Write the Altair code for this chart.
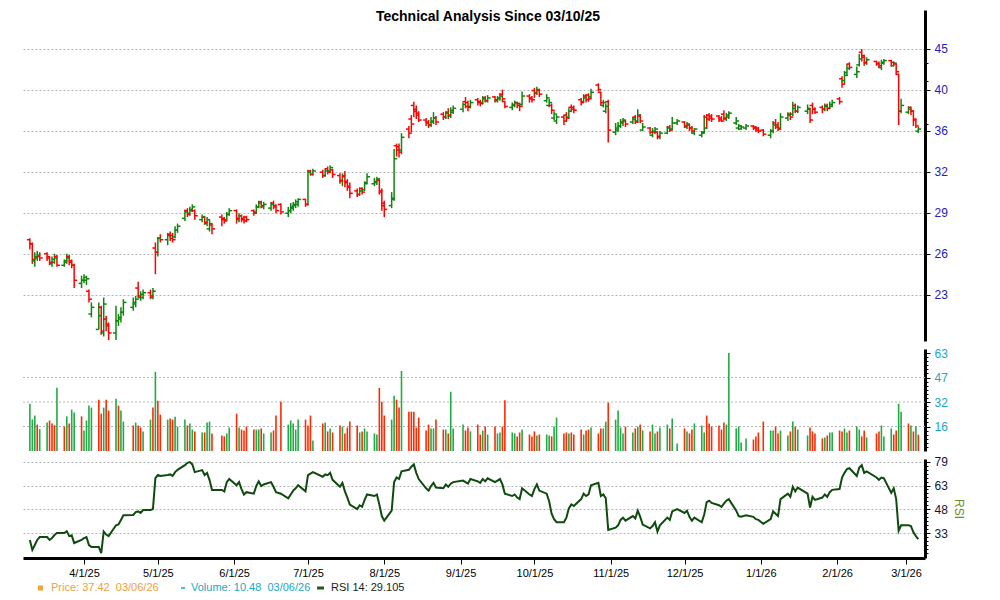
import altair as alt
import pandas as pd

title_text = "Technical Analysis Since 03/10/25"
holidays = ["2025-04-18", "2025-05-26", "2025-06-19", "2025-07-04", "2025-09-01",
            "2025-11-27", "2025-12-25", "2026-01-01", "2026-01-19", "2026-02-16"]

# daily OHLC (one row per week)
opens = [
 26.8,26.5,25.3,25.5,25.6, 25.8,25.5,25.1,25.2,25.6, 25.0,25.2,25.6,25.3,25.0,
 23.8,24.0,24.0,23.3,21.9, 21.0,22.3,20.8,21.6,21.3, 20.8,21.5,21.6,22.0,
 22.3,22.5,23.5,22.9,22.9, 23.2,22.9,26.2,25.9,26.9, 26.8,27.2,27.1,27.0,27.5,
 28.4,29.0,28.8,29.0,29.0, 28.3,28.5,28.0,27.6,27.9, 28.5,28.4,28.3,28.7,
 29.0,28.3,28.6,28.4,28.5, 29.0,28.9,29.3,29.7,29.3, 29.2,29.6,29.4,29.5,
 28.8,29.0,29.2,29.4,29.5, 29.9,29.5,32.3,32.0, 32.2,31.9,32.5,32.3,32.4,
 31.9,31.4,31.8,31.4,31.0, 30.6,30.3,30.8,30.7,31.3, 31.2,31.3,31.5,30.5,29.4,
 29.4,30.0,34.6,34.5,34.2, 36.2,37.2,38.6,38.2,37.8, 37.1,36.9,36.6,36.9,37.3,
 37.7,37.4,37.9,37.5,37.9, 38.2,39.0,38.9,38.5, 39.2,39.0,38.9,39.4,39.1,
 39.5,39.1,39.3,39.8,39.0, 38.4,38.6,38.9,38.8,38.7, 39.6,39.4,40.2,39.9,40.2,
 39.1,38.6,38.6,37.3,37.0, 37.4,37.6,37.4,38.4,38.4, 39.2,39.0,39.6,39.7,39.5,
 40.8,40.0,38.6,38.0,39.0, 35.9,36.1,36.5,36.8,37.0, 36.9,37.4,37.0,37.5,36.1,
 36.3,35.6,35.9,35.9,35.4, 35.8,36.4,36.2,36.8, 36.9,36.4,36.6,36.3,35.8,
 35.6,35.9,37.4,37.6,37.5, 37.5,37.3,37.7,37.2,37.4, 36.8,36.3,36.2,36.3,
 36.5,36.4,36.3,36.1, 35.6,36.0,36.8,36.6,36.3, 37.3,37.7,37.7,38.6,38.0,
 38.0,38.2,38.6,38.2, 38.4,38.2,38.6,38.3,38.5, 39.3,41.5,41.3,42.2,43.2,
 42.0,43.1,44.6,44.0,43.3, 43.5,43.3,42.8,43.3, 43.6,43.0,43.2,42.0,38.0,
 37.9,38.4,38.0,37.1,36.0,
]
highs = [
 26.9,26.6,25.9,26.0,25.9, 25.9,25.6,25.6,25.8,25.7, 25.4,25.8,25.7,25.4,25.1,
 24.3,24.4,24.3,23.4,22.6, 22.6,22.4,22.9,21.8,21.4, 22.4,21.9,22.3,22.8,
 22.9,23.0,23.9,23.3,23.4, 23.4,23.5,26.6,27.0,27.2, 27.3,27.4,27.3,27.8,28.0,
 29.1,29.2,29.3,29.5,29.1, 28.7,28.6,28.5,28.3,28.0, 28.7,28.5,28.9,29.2,
 29.1,28.8,28.7,28.6,28.6, 29.1,29.5,29.8,29.8,29.7, 29.7,29.8,29.5,29.6,
 29.3,29.6,29.7,29.9,30.0, 29.95,32.4,32.4,32.5, 32.4,32.5,32.7,32.8,32.5,
 32.1,32.1,32.3,31.6,31.3, 30.8,30.9,30.9,31.4,32.1, 31.7,31.8,31.7,30.8,29.8,
 30.5,34.3,34.8,34.8,35.8, 36.5,37.6,39.0,38.6,38.0, 37.3,37.1,37.4,37.9,37.5,
 37.9,38.0,38.3,38.4,38.6, 38.9,39.5,39.1,39.2, 39.4,39.2,39.6,39.6,39.7,
 39.6,39.6,39.9,40.3,39.1, 38.9,39.1,39.0,38.9,40.1, 39.8,39.6,40.5,40.6,40.4,
 39.8,39.3,38.8,38.0,37.6, 37.6,37.9,38.3,38.7,38.6, 39.4,39.8,39.8,39.9,40.4,
 41.0,40.1,39.2,38.8,39.2, 36.8,36.9,37.2,37.3,37.1, 37.4,37.6,38.2,37.7,36.8,
 36.4,36.3,36.4,36.0,36.0, 36.5,36.6,37.4,37.2, 37.0,36.9,36.7,36.5,36.3,
 36.0,37.6,37.7,37.8,37.7, 37.6,37.5,38.1,37.8,38.0, 37.4,36.7,36.6,36.7,
 36.6,36.5,36.4,36.2, 36.2,37.0,37.2,36.9,37.8, 37.9,37.9,39.0,38.8,38.6,
 38.7,38.3,38.9,38.4, 38.6,38.8,38.8,39.0,39.2, 39.5,41.8,42.4,43.2,43.4,
 42.9,44.4,45.0,44.3,44.0, 43.6,43.5,43.7,43.8, 43.7,43.5,43.3,42.1,39.3,
 38.5,38.5,38.1,37.2,36.4,
]
lows = [
 26.1,25.1,24.9,25.3,25.3, 25.3,25.0,24.9,25.1,24.9, 24.9,25.1,25.0,24.8,23.5,
 23.5,23.8,23.7,22.6,21.7, 21.0,20.7,20.6,20.9,20.4, 20.4,21.2,21.4,21.8,
 22.1,22.3,22.9,22.7,22.8, 22.8,22.8,24.4,25.6,26.6, 26.4,26.7,26.6,26.9,27.3,
 28.2,28.5,28.6,28.9,28.3, 28.1,27.9,27.8,27.4,27.2, 27.8,28.0,28.2,28.6,
 28.0,28.1,28.1,28.0,28.1, 28.6,28.8,29.2,29.2,29.1, 29.0,29.1,28.8,28.7,
 28.5,28.8,29.0,29.2,29.3, 29.3,29.4,31.9,31.9, 31.7,31.8,32.0,32.1,31.7,
 31.2,31.0,30.9,30.6,30.0, 30.1,30.2,30.3,30.6,31.2, 31.0,31.1,30.3,29.0,28.5,
 29.2,29.8,33.6,33.5,33.8, 35.3,35.9,37.4,37.2,36.9, 36.5,36.3,36.4,36.7,36.6,
 37.1,37.2,37.2,37.3,37.7, 37.9,38.3,38.0,38.3, 38.6,38.5,38.7,38.9,38.9,
 38.9,38.9,39.1,39.0,38.3, 38.1,38.4,38.3,38.0,38.6, 38.9,38.9,39.4,39.7,39.5,
 38.9,38.4,37.7,37.1,36.7, 36.6,36.9,37.2,37.9,37.8, 38.6,38.9,38.9,39.0,39.3,
 40.1,38.6,38.4,37.8,34.9, 35.6,35.9,36.3,36.5,36.4, 36.7,36.7,36.8,36.8,36.0,
 35.7,35.4,35.7,35.2,35.2, 35.7,35.9,36.1,36.6, 36.3,36.2,36.0,35.8,35.6,
 35.4,35.8,36.2,37.0,36.9, 36.9,36.9,37.1,37.0,37.2, 36.6,36.1,36.1,36.1,
 36.1,35.9,35.8,35.5, 35.3,35.8,36.2,36.0,36.1, 37.0,37.1,37.5,37.8,37.8,
 37.7,36.8,37.7,37.7, 37.8,38.0,38.0,38.2,38.4, 38.7,40.5,40.9,41.8,42.5,
 41.6,42.9,43.5,43.0,43.1, 43.0,42.7,42.5,43.1, 42.9,42.9,42.0,36.6,37.8,
 37.7,37.6,36.5,36.3,35.8,
]
closes = [
 26.5,25.4,25.6,25.7,25.5, 25.6,25.2,25.4,25.5,25.0, 25.3,25.5,25.2,25.0,24.0,
 24.0,24.2,24.1,22.8,22.3, 21.8,20.9,22.5,21.2,20.8, 21.5,21.7,22.0,22.6,
 22.6,22.8,23.0,23.1,23.2, 23.0,23.3,25.9,26.9,26.8, 27.1,26.9,26.8,27.5,27.8,
 28.9,28.7,29.1,29.3,28.6, 28.5,28.1,28.3,28.0,27.6, 28.3,28.2,28.7,29.0,
 28.4,28.6,28.3,28.2,28.3, 28.8,29.3,29.6,29.4,29.5, 29.5,29.3,29.0,28.9,
 29.0,29.3,29.5,29.7,29.9, 29.5,32.2,32.0,32.3, 31.9,32.3,32.2,32.6,32.0,
 31.5,31.9,31.3,30.9,30.4, 30.3,30.6,30.5,31.2,31.8, 31.4,31.6,30.6,29.6,29.1,
 29.9,33.4,34.2,34.0,35.4, 35.8,36.7,38.0,37.6,37.1, 36.8,36.6,37.0,37.3,36.9,
 37.4,37.8,37.6,38.1,38.3, 38.7,38.5,38.4,38.9, 38.9,38.8,39.3,39.1,39.4,
 39.2,39.4,39.6,39.3,38.5, 38.7,38.9,38.6,38.5,39.6, 39.3,39.2,39.9,40.3,39.8,
 39.4,38.9,38.1,37.7,37.4, 37.0,37.3,38.0,38.2,38.1, 38.9,39.4,39.2,39.3,40.0,
 40.3,38.9,38.9,38.5,36.1, 36.3,36.5,36.9,37.1,36.7, 37.2,36.9,37.6,37.0,36.4,
 35.9,36.0,36.2,35.5,35.8, 36.3,36.1,36.8,37.0, 36.5,36.7,36.3,36.0,36.2,
 35.8,36.3,37.2,37.3,37.2, 37.1,37.0,37.3,37.6,37.8, 37.0,36.5,36.4,36.5,
 36.3,36.1,36.0,35.7, 36.0,36.6,36.4,36.2,37.4, 37.6,37.4,38.3,38.0,38.4,
 38.3,37.1,38.2,37.9, 38.2,38.5,38.3,38.7,38.9, 39.0,40.9,41.9,42.7,42.8,
 42.3,43.8,44.2,43.4,43.7, 43.2,43.0,43.4,43.6, 43.4,43.3,42.3,38.0,38.6,
 38.2,38.0,37.2,36.5,36.2,
]
volumes = [
 30.4,20.4,22.8,17.0,14.0, 18.3,19.6,17.7,16.6,40.6, 15.7,22.3,17.7,26.6,24.7,
 22.3,13.2,19.6,29.2,27.9, 33.0,24.0,27.9,33.0,26.0, 33.6,29.2,26.0,18.9,
 16.4,18.3,16.4,15.1,12.6, 20.2,27.9,50.9,32.3,23.4, 20.2,20.9,20.2,22.1,15.7,
 20.2,16.4,17.7,13.8,12.6, 11.9,11.9,18.3,18.9,11.3, 10.0,9.4,11.3,15.1,
 24.0,15.1,13.8,13.2,15.7, 13.8,13.8,13.8,14.5,11.3, 11.9,13.2,22.8,31.7,
 17.0,19.6,17.7,13.8,20.2, 20.2,16.4,22.8,6.8, 17.7,18.3,12.6,14.5,11.9,
 16.4,15.7,11.3,15.1,18.9, 16.4,11.9,12.6,14.5,12.6, 11.3,10.6,40.6,31.7,22.8,
 20.2,35.5,33.0,27.9,51.5, 25.3,25.3,25.3,15.1,21.5, 13.2,17.0,14.5,14.5,20.2,
 13.8,13.8,11.3,38.1,14.5, 17.0,13.2,15.1,12.6, 17.0,10.6,13.2,15.7,10.6,
 15.7,11.3,11.9,15.7,32.6, 11.9,11.3,9.4,11.9,13.8, 10.6,9.4,12.6,10.0,10.6,
 10.6,10.0,9.4,15.7,21.5, 11.3,11.9,11.3,11.9,10.6, 13.8,10.6,13.2,13.8,15.1,
 11.3,14.5,14.5,18.9,31.1, 20.2,26.0,15.1,11.3,15.7, 11.9,14.5,15.7,17.0,13.2,
 12.6,17.0,11.3,12.6,15.1, 17.0,14.5,20.9,4.9, 14.5,12.6,11.3,13.8,17.7,
 16.4,11.9,22.8,17.7,15.7, 16.4,13.8,18.3,17.0,63.0, 14.5,15.7,5.5,8.1,
 7.4,9.4,11.9,18.9, 13.2,13.2,15.7,11.3,13.2, 10.0,12.6,18.9,15.7,13.8,
 10.0,15.1,12.6,11.3, 8.1,8.7,10.0,11.9,11.9, 13.2,12.6,14.5,11.9,13.2,
 15.7,13.8,9.4,13.2,8.7, 11.3,12.6,16.4,9.4, 14.5,10.6,13.2,30.4,25.3,
 17.7,16.4,12.6,15.7,10.48,
]
# G = up volume, R = down volume (one group per week)
volume_dir = ("GGGRG GRRRG RGRGG RGGGG RRGRR GRGG RGRRG GRGRR GRRGG GRGGR GRGGR RRGG "
              "RGRRR RGGRG GRRR GGGGG RRRG RGRGR RGRRR RGRGG GGRRR GGRRG RRRRR RRGGR "
              "RGRGG GRRG RRGRG RGGRR GGRRG RRRGR GGRGG RRGRR RGRRG RRGGR GGGGR GRGRG "
              "RGGRG GRGG RGRRG GGRRR RRRGG GGGG RRRR GGRRG GRGRG GRRR RGRGG RRGGR "
              "GGRRG RRGG GRRGG RGRGR")
rsi = [
 28.5,22.0,25.2,28.5,30.4, 30.4,28.5,29.7,31.7,33.0, 33.0,34.2,31.0,31.5,26.5,
 28.5,29.7,30.4,25.2,23.9, 24.0,20.0,34.0,32.0,31.0, 38.0,38.5,41.5,44.5,
 44.7,46.6,47.0,46.0,47.9, 47.9,48.5,68.6,70.6,70.0, 70.6,71.0,70.0,72.5,74.0,
 77.0,78.5,79.0,77.5,72.5, 73.8,70.6,72.0,67.3,60.9, 60.9,60.0,66.0,68.0,
 64.0,66.0,61.5,58.0,59.5, 58.5,63.5,66.5,63.5,64.5, 66.0,63.0,59.5,58.5,
 55.5,58.0,60.5,62.0,64.0, 60.0,70.5,71.5,72.5, 69.5,71.0,70.5,72.0,67.5,
 63.0,65.5,60.0,56.0,51.5, 48.5,51.0,50.0,54.5,58.0, 57.0,58.0,51.5,44.0,41.0,
 47.5,66.0,69.0,68.0,73.0, 74.0,76.0,77.5,72.0,68.0, 62.0,60.5,63.5,65.5,62.5,
 62.0,64.5,63.0,65.0,66.0, 67.0,66.0,65.0,68.0, 66.5,65.5,68.0,66.5,68.5,
 66.0,67.0,68.0,64.5,58.5, 57.0,58.0,56.0,55.0,62.0, 58.0,57.0,61.5,64.5,60.5,
 58.5,53.5,45.5,42.0,40.0, 40.0,43.0,49.0,51.5,50.5, 55.0,58.5,57.0,58.0,64.0,
 65.5,57.0,58.0,55.5,35.0, 36.5,38.0,41.5,43.0,41.0, 44.0,42.5,47.5,43.5,38.5,
 36.0,37.5,40.0,34.0,38.0, 43.0,41.5,47.0,48.5, 46.0,47.5,43.5,41.0,43.0,
 40.0,45.0,53.0,54.0,52.5, 51.0,50.0,52.0,54.0,55.0, 47.5,44.0,43.5,44.5,
 43.5,42.0,41.5,39.0, 42.0,47.0,45.5,44.0,55.0, 58.5,56.5,63.0,60.0,62.5,
 58.5,49.5,56.5,54.5, 56.0,58.0,56.5,59.5,61.0, 61.5,69.0,72.0,74.5,75.0,
 70.0,75.5,77.0,72.0,73.0, 69.0,67.5,69.0,68.5, 59.0,62.0,55.0,34.5,38.0,
 38.0,37.5,33.5,31.0,29.1,
]

price_ticks = [23.08, 25.80, 28.83, 32.23, 36.02, 40.26, 45.0]
price_minor = [36.7, 41.3, 43.3]
volume_ticks = [15.75, 31.5, 47.25, 63.0]
volume_grid = [15.75, 31.5, 47.25]
rsi_ticks = [33.0, 48.4, 63.8, 79.2]
legend_price = "Price: 37.42\u00a0 03/06/26"
legend_volume = "Volume: 10.48\u00a0 03/06/26"
legend_rsi = "RSI 14: 29.105"

dates = [d.strftime("%Y-%m-%dT00:00:00") for d in pd.bdate_range("2025-03-10", "2026-03-06")
         if d.strftime("%Y-%m-%d") not in holidays]
vdir = list(volume_dir.replace(" ", ""))
n = min(len(dates), len(opens), len(highs), len(lows), len(closes), len(volumes), len(vdir), len(rsi))
df = pd.DataFrame({
    "date": dates[:n], "open": opens[:n], "high": highs[:n], "low": lows[:n],
    "close": closes[:n], "volume": volumes[:n], "vdir": vdir[:n], "rsi": rsi[:n],
})

W = 902
H_PRICE, H_VOL, H_RSI = 331, 102, 99
FONT = "Liberation Sans"
GREEN, RED = "#0e850e", "#ff0000"
VGREEN, VRED = "#22aa44", "#ff2a00"

xscale = alt.Scale(domain=[alt.DateTime(year=2025, month=3, date=7, hours=5),
                           alt.DateTime(year=2026, month=3, date=8, hours=17)])
pscale = alt.Scale(type="log", domain=[20.35, 50.03], nice=False, zero=False)
vscale = alt.Scale(domain=[0, 65.6], nice=False, zero=False)
rscale = alt.Scale(domain=[16.8, 81.0], nice=False, zero=False)

grid_style = dict(grid=True, gridDash=[2, 2], gridColor="#b4b4b4", gridWidth=1)
axis_style = dict(orient="right", domainWidth=3, domainColor="black", tickColor="black",
                  tickSize=5, tickWidth=1, labelFontSize=12, labelFont=FONT, labelPadding=4)

def minor_axis(vals):
    return alt.Axis(orient="right", values=vals, labels=False, domain=False, grid=False,
                    tickSize=3, tickColor="black", tickWidth=1, title=None)

month_ticks = [alt.DateTime(year=2025, month=m, date=1) for m in range(4, 13)] + \
              [alt.DateTime(year=2026, month=m, date=1) for m in range(1, 4)]
xaxis = alt.Axis(values=month_ticks, format="%-m/%-d/%y", domainWidth=3, domainColor="black",
                 tickColor="black", tickSize=6, tickWidth=1, labelFontSize=11, labelFont=FONT,
                 labelColor="black", labelPadding=3, grid=False, title=None, labelFlush=False)

pcolor = alt.condition("datum.close >= datum.open", alt.value(GREEN), alt.value(RED))
xp = alt.X("date:T", scale=xscale, axis=None)

hl = alt.Chart(df).mark_rule(strokeWidth=1.5).encode(
    x=xp,
    y=alt.Y("high:Q", scale=pscale,
            axis=alt.Axis(values=price_ticks, format=".0f", labelColor="#2020c8", title=None,
                          **grid_style, **axis_style)),
    y2="low:Q", color=pcolor)
op = alt.Chart(df).mark_rule(strokeWidth=1.5, xOffset=-3, x2Offset=0).encode(
    x=xp, x2="date:T", y=alt.Y("open:Q", scale=pscale, axis=None), color=pcolor)
cl = alt.Chart(df).mark_rule(strokeWidth=1.5, xOffset=0, x2Offset=3).encode(
    x=xp, x2="date:T", y=alt.Y("close:Q", scale=pscale, axis=None), color=pcolor)
pminor = alt.Chart(df).mark_rule(opacity=0).encode(
    x=xp, y=alt.Y("high:Q", scale=pscale, axis=minor_axis(price_minor)))
title_mark = alt.Chart(pd.DataFrame({"t": [title_text]})).mark_text(
    font=FONT, fontSize=14, fontWeight="bold", baseline="top", align="center", color="black"
).encode(text="t:N", x=alt.value(465), y=alt.value(0))
price = alt.layer(hl, op, cl, pminor, title_mark).resolve_axis(y="independent").properties(
    width=W, height=H_PRICE)

vgrid = alt.Chart(pd.DataFrame({"g": volume_grid})).mark_rule(
    strokeDash=[2, 2], color="#b4b4b4", strokeWidth=1).encode(
    x=alt.value(0), x2=alt.value(W), y=alt.Y("g:Q", scale=vscale, axis=None))
vbars = alt.Chart(df).mark_rule(strokeWidth=1.6).encode(
    x=xp,
    y=alt.Y("volume:Q", scale=vscale,
            axis=alt.Axis(values=volume_ticks, format=".0f", labelColor="#19a7c7",
                          grid=False, title=None, **axis_style)),
    y2=alt.datum(0),
    color=alt.condition("datum.vdir == 'G'", alt.value(VGREEN), alt.value(VRED)))
vminor_vals = [k * 2.625 for k in range(1, 24) if k % 6]
vminor = alt.Chart(df).mark_rule(opacity=0).encode(
    x=xp, y=alt.Y("volume:Q", scale=vscale, axis=minor_axis(vminor_vals)))
volume = alt.layer(vgrid, vbars, vminor).resolve_axis(y="independent").properties(
    width=W, height=H_VOL)

xr = alt.X("date:T", scale=xscale, axis=xaxis)
rline = alt.Chart(df).mark_line(color="#0f4a0f", strokeWidth=2).encode(
    x=xr,
    y=alt.Y("rsi:Q", scale=rscale,
            axis=alt.Axis(values=rsi_ticks, labelExpr="floor(datum.value)",
                          labelColor="#141436", **grid_style, **axis_style,
                          title="RSI", titleColor="#6b8e23", titleFont=FONT,
                          titleFontSize=12, titleFontWeight="normal", titlePadding=4)))
rminor_vals = [33.0 + k * 15.4 / 6 for k in range(-6, 19) if k % 6]
rminor = alt.Chart(df).mark_rule(opacity=0).encode(
    x=xr, y=alt.Y("rsi:Q", scale=rscale, axis=minor_axis(rminor_vals)))

one = pd.DataFrame({"k": [0]})
LY = H_RSI + 30
leg_sq = alt.Chart(one).mark_point(shape="square", filled=True, size=26, color="#f4a340",
                                   opacity=1).encode(x=alt.value(17.5), y=alt.value(LY))
leg_p = alt.Chart(pd.DataFrame({"t": [legend_price]})).mark_text(
    font=FONT, fontSize=11, align="left", baseline="middle", color="#f0a040").encode(
    text="t:N", x=alt.value(28), y=alt.value(LY))
leg_vd = alt.Chart(one).mark_rule(color="#19a7c7", strokeWidth=1.5).encode(
    x=alt.value(158), x2=alt.value(162), y=alt.value(LY))
leg_v = alt.Chart(pd.DataFrame({"t": [legend_volume]})).mark_text(
    font=FONT, fontSize=11, align="left", baseline="middle", color="#19a7c7").encode(
    text="t:N", x=alt.value(168), y=alt.value(LY))
leg_rd = alt.Chart(one).mark_rule(color="#1b5e1b", strokeWidth=3).encode(
    x=alt.value(294), x2=alt.value(301), y=alt.value(LY))
leg_r = alt.Chart(pd.DataFrame({"t": [legend_rsi]})).mark_text(
    font=FONT, fontSize=11, align="left", baseline="middle", color="#1a1a1a").encode(
    text="t:N", x=alt.value(308), y=alt.value(LY))

rsi_chart = alt.layer(rline, rminor, leg_sq, leg_p, leg_vd, leg_v, leg_rd, leg_r).resolve_axis(
    y="independent").properties(width=W, height=H_RSI)

chart = alt.vconcat(price, volume, rsi_chart, spacing=8, bounds="flush").properties(
    padding={"left": 14, "top": 2, "right": 5, "bottom": 2},
    background="white",
).configure_view(stroke=None)

chart.save("out.html", embed_options={"renderer": "svg", "actions": False})
